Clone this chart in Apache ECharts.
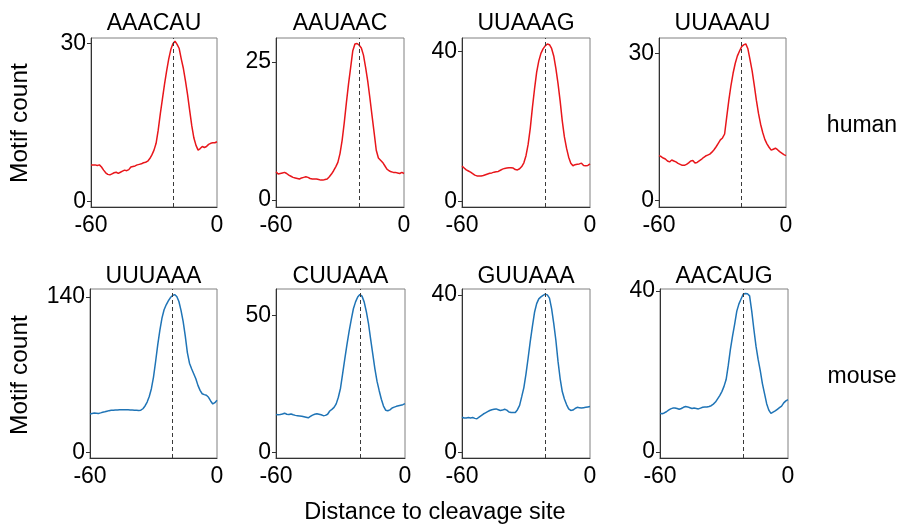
<!DOCTYPE html>
<html>
<head>
<meta charset="utf-8">
<script src="https://cdn.jsdelivr.net/npm/echarts@6/dist/echarts.min.js"></script>
<style>
  html, body { margin: 0; padding: 0; background: #fff; }
  #chart { width: 902px; height: 526px; }
</style>
</head>
<body>
<div id="chart"></div>
<script>
// Distance to the cleavage site (nt), one point per position
const positions = Array.from({ length: 61 }, (_, k) => k - 60);
const cleavageMark = -21;

const motifs = ['AAACAU', 'AAUAAC', 'UUAAAG', 'UUAAAU', 'UUUAAA', 'CUUAAA', 'GUUAAA', 'AACAUG'];
const species = ['human', 'mouse'];

// Motif counts per position, human
const AAACAU = [6.9, 6.9, 6.9, 6.8, 6.9, 6.5, 5.9, 5.4, 5.1, 5.0, 5.2, 5.4, 5.5, 5.3, 5.5, 5.7, 5.9, 5.8, 6.0, 6.5,
  6.6, 6.7, 6.9, 7.0, 7.1, 7.3, 7.4, 7.6, 8.1, 8.8, 9.7, 11.0, 13.5, 16.6, 19.4, 22.2, 24.7, 27.0, 28.8, 29.9,
  30.4, 29.8, 29.0, 27.0, 25.2, 22.8, 20.2, 17.2, 14.3, 12.0, 10.6, 9.7, 10.0, 10.4, 10.2, 10.4, 10.8, 11.0, 11.1, 11.1, 11.3];
const AAUAAC = [5.1, 4.7, 4.8, 4.9, 5.0, 4.8, 4.5, 4.3, 4.1, 4.0, 3.9, 3.8, 4.0, 4.1, 4.2, 4.1, 3.9, 3.8, 3.8, 3.8,
  3.7, 3.6, 3.6, 3.7, 3.8, 4.2, 4.7, 5.3, 6.0, 6.8, 8.4, 10.8, 14.0, 17.6, 21.0, 24.0, 27.0, 28.2, 28.3, 28.0,
  27.5, 26.2, 24.0, 21.5, 18.5, 15.3, 12.2, 9.0, 7.6, 7.2, 6.8, 6.2, 5.6, 5.3, 5.1, 5.0, 5.0, 4.9, 4.8, 5.0, 4.8];
const UUAAAG = [9.4, 8.9, 8.4, 8.1, 7.8, 7.4, 7.0, 6.8, 6.8, 6.8, 6.9, 7.1, 7.3, 7.5, 7.6, 7.8, 7.9, 8.0, 8.3, 8.6,
  8.8, 8.9, 9.0, 9.0, 8.9, 8.5, 8.4, 8.7, 9.3, 10.3, 12.2, 15.2, 19.5, 25.0, 30.0, 34.5, 37.5, 39.5, 40.7, 41.5,
  42.0, 41.8, 40.8, 38.8, 35.5, 31.5, 26.8, 21.5, 17.2, 14.2, 11.8, 10.2, 9.5, 9.8, 9.9, 10.0, 10.2, 9.6, 9.5, 9.6, 10.0];
const UUAAAU = [9.2, 9.0, 8.7, 8.5, 8.1, 7.9, 8.3, 8.1, 7.9, 7.6, 7.4, 7.2, 7.2, 7.4, 7.7, 8.1, 8.2, 7.7, 7.8, 8.1,
  8.4, 8.8, 9.1, 9.3, 9.5, 9.9, 10.4, 11.0, 11.7, 12.4, 12.8, 13.6, 17.1, 20.5, 23.5, 26.0, 28.0, 29.5, 30.5, 31.4,
  31.8, 32.0, 31.0, 28.8, 26.5, 23.6, 20.5, 17.8, 15.6, 13.9, 12.5, 11.6, 10.9, 10.3, 10.5, 10.7, 10.4, 10.0, 9.7, 9.4, 9.2];

// Motif counts per position, mouse
const UUUAAA = [34.8, 35.3, 35.7, 35.5, 35.3, 35.8, 36.4, 36.8, 37.3, 37.8, 38.1, 38.2, 38.3, 38.4, 38.5, 38.6, 38.7, 38.6, 38.5, 38.4,
  38.3, 38.2, 38.1, 38.0, 38.2, 39.5, 42.0, 45.5, 50.5, 57.5, 68.0, 82.0, 97.0, 110.0, 121.0, 128.5, 133.0, 136.5, 139.5, 141.3,
  142.1, 140.5, 136.0, 128.0, 118.0, 105.0, 90.0, 80.5, 75.5, 71.0, 66.5, 60.5, 56.0, 53.0, 52.2, 51.6, 49.8, 46.5, 43.8, 45.0, 47.1];
const CUUAAA = [13.9, 13.8, 13.9, 14.1, 14.4, 14.0, 13.9, 14.1, 13.8, 13.6, 13.5, 13.4, 13.3, 13.1, 12.9, 12.7, 13.2, 13.7, 14.0, 14.2,
  14.0, 13.8, 13.5, 13.6, 14.0, 15.2, 15.8, 16.5, 17.8, 20.2, 23.5, 28.8, 34.2, 39.4, 44.2, 48.5, 52.5, 55.0, 56.8, 57.7,
  57.1, 55.0, 51.5, 47.2, 41.5, 36.0, 30.6, 26.0, 22.6, 19.5, 17.0, 15.5, 15.3, 15.6, 16.3, 16.6, 16.9, 17.1, 17.3, 17.5, 17.9];
const GUUAAA = [9.0, 8.8, 8.8, 8.9, 8.8, 8.9, 8.7, 8.6, 9.0, 9.4, 9.8, 10.1, 10.4, 10.7, 10.9, 11.0, 11.1, 10.9, 10.7, 10.8,
  11.0, 10.8, 10.3, 10.2, 10.2, 10.2, 10.9, 12.0, 14.2, 16.5, 20.0, 24.0, 28.2, 32.0, 35.6, 37.8, 39.0, 39.5, 39.9, 40.2,
  40.0, 39.2, 36.5, 32.8, 28.5, 23.2, 18.8, 15.5, 13.6, 12.2, 11.1, 10.7, 10.8, 11.2, 11.5, 11.4, 11.3, 11.4, 11.5, 11.6, 11.7];
const AACAUG = [9.6, 9.5, 9.7, 10.0, 10.4, 10.7, 10.9, 10.9, 10.8, 10.6, 10.8, 11.1, 11.3, 11.2, 11.0, 10.8, 10.9, 10.8, 10.7, 10.9,
  11.1, 11.2, 11.2, 11.3, 11.5, 11.9, 12.4, 13.2, 14.0, 15.0, 16.3, 18.0, 21.5, 25.5, 28.8, 31.8, 35.0, 36.8, 38.0, 39.2,
  39.4, 39.3, 38.8, 35.0, 30.5, 26.3, 23.0, 20.2, 17.0, 14.5, 12.0, 10.4, 9.6, 9.9, 10.2, 10.6, 11.0, 11.4, 12.2, 12.7, 13.0];

const counts = [AAACAU, AAUAAC, UUAAAG, UUAAAU, UUUAAA, CUUAAA, GUUAAA, AACAUG];

// Labelled y ticks (0 and the top tick) and axis extents per panel
const yTopTick = [30, 25, 40, 30, 140, 50, 40, 40];
const yMin = [-1.1, -1.26, -1.5, -1.3, -4.8, -1.95, -1.35, -1.5];
const yMax = [31, 29.3, 43.6, 33.2, 147.2, 59.7, 41.5, 40.5];

// Panel layout (pixels)
const boxLeft = [91, 276, 462, 659, 90, 276, 462, 660];
const boxRight = [217, 404, 590, 786, 217, 405, 590, 788];
const rowTop = [38, 289];
const boxHeight = 169;

const FONT = '"Liberation Sans", Arial, Helvetica, sans-serif';
const seriesColor = ['#e8161b', '#1f74b6'];

const chart = echarts.init(document.getElementById('chart'), null, { renderer: 'canvas' });

const option = {
  animation: false,
  backgroundColor: '#ffffff',
  grid: [], xAxis: [], yAxis: [], series: [], graphic: []
};

function text(str, x, y, size, extra) {
  return Object.assign({
    type: 'text', x: x, y: y, silent: true,
    style: { text: str, font: size + 'px ' + FONT, fill: '#000', textAlign: 'center', textVerticalAlign: 'middle' }
  }, extra || {});
}

motifs.forEach((motif, i) => {
  const row = i < 4 ? 0 : 1;
  const top = rowTop[row];
  const width = boxRight[i] - boxLeft[i];
  option.grid.push({
    left: boxLeft[i], top: top, width: width, height: boxHeight,
    show: true, borderColor: '#808080', borderWidth: 1, backgroundColor: 'transparent'
  });
  option.xAxis.push({
    type: 'value', gridIndex: i, min: -60, max: 0,
    axisLine: { show: true, onZero: false, lineStyle: { color: '#333', width: 1 } },
    axisTick: { show: false },
    splitLine: { show: false },
    axisLabel: { customValues: [-60, 0], fontSize: 23, fontFamily: FONT, color: '#000', margin: 7 }
  });
  option.yAxis.push({
    type: 'value', gridIndex: i, min: yMin[i], max: yMax[i],
    axisLine: { show: true, onZero: false, lineStyle: { color: '#333', width: 1 } },
    axisTick: { show: true, customValues: [0, yTopTick[i]], length: 4, lineStyle: { color: '#333', width: 1 } },
    splitLine: { show: false },
    axisLabel: { customValues: [0, yTopTick[i]], fontSize: 23, fontFamily: FONT, color: '#000', margin: 5 }
  });
  option.series.push({
    type: 'line', xAxisIndex: i, yAxisIndex: i,
    data: positions.map((x, k) => [x, counts[i][k]]),
    symbol: 'none', showSymbol: false, smooth: false,
    lineStyle: { color: seriesColor[row], width: 1.5 },
    z: 3,
    markLine: {
      silent: true, symbol: 'none', animation: false,
      label: { show: false },
      lineStyle: { type: [4, 3], color: '#3a3a3a', width: 1 },
      data: [{ xAxis: cleavageMark }]
    }
  });
  option.graphic.push(text(motif, boxLeft[i] + width / 2, row === 0 ? 24 : 276.5, 23));
});

// Row labels
species.forEach((name, row) => {
  option.graphic.push(text('Motif count', 20, row === 0 ? 123 : 375, 24.5, { rotation: Math.PI / 2 }));
  option.graphic.push(text(name, 862, row === 0 ? 126 : 377, 23));
});
option.graphic.push(text('Distance to cleavage site', 435, 513, 23.5));

chart.setOption(option);
</script>
</body>
</html>
